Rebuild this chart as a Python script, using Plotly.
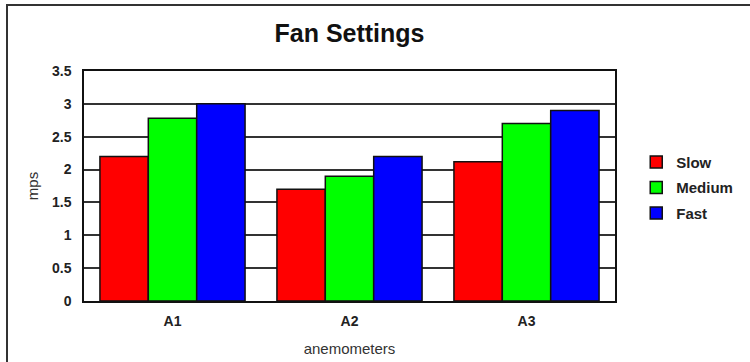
import plotly.graph_objects as go

# Wind speed (mps) at each anemometer for three fan settings
anemometers = ["A1", "A2", "A3"]
slow = [2.2, 1.7, 2.12]
medium = [2.78, 1.9, 2.7]
fast = [3.0, 2.2, 2.9]

series = [
    ("Slow", slow, "#ff0000"),
    ("Medium", medium, "#00ff00"),
    ("Fast", fast, "#0000ff"),
]

y_ticks = [0, 0.5, 1, 1.5, 2, 2.5, 3, 3.5]
y_tick_text = ["0", "0.5", "1", "1.5", "2", "2.5", "3", "3.5"]

FONT = "Liberation Sans, Arial, sans-serif"

fig = go.Figure()
for name, values, color in series:
    fig.add_trace(go.Bar(
        name=name,
        x=anemometers,
        y=values,
        legendgroup=name,
        marker=dict(color=color, line=dict(color="#111111", width=1.5)),
    ))

fig.update_layout(
    width=750,
    height=362,
    margin=dict(l=84, r=135, t=71, b=61),
    paper_bgcolor="white",
    plot_bgcolor="white",
    barmode="group",
    bargap=0.18,
    bargroupgap=0,
    font=dict(family=FONT, color="#222222"),
    title=dict(
        text="<b>Fan Settings</b>",
        font=dict(family=FONT, size=25, color="#111111"),
        x=0.5, xref="paper", xanchor="center",
        y=1 - 33 / 362, yref="container", yanchor="middle",
    ),
    legend=dict(
        x=1.04, xanchor="left",
        y=0.675, yanchor="top",
        font=dict(family=FONT, size=15, color="#222222", weight="bold"),
        tracegroupgap=3,
        bgcolor="rgba(0,0,0,0)",
    ),
    xaxis=dict(
        showgrid=False,
        showline=True, linecolor="#111111", linewidth=1.5, mirror=True,
        ticks="", ticklabelstandoff=6,
        tickfont=dict(family=FONT, size=14, color="#222222", weight="bold"),
        title=dict(text="anemometers", standoff=16,
                   font=dict(family=FONT, size=15, color="#333333")),
        automargin=False,
    ),
    yaxis=dict(
        range=[0, 3.5],
        tickvals=y_ticks, ticktext=y_tick_text,
        showgrid=True, gridcolor="#333333", gridwidth=1.5,
        zeroline=False,
        showline=True, linecolor="#111111", linewidth=1.5, mirror=True,
        ticks="", ticklabelstandoff=8,
        tickfont=dict(family=FONT, size=14, color="#222222", weight="bold"),
        title=dict(text="mps", standoff=10,
                   font=dict(family=FONT, size=15, color="#333333")),
        automargin=False,
    ),
    shapes=[
        # outer frame around the whole chart
        dict(type="rect", xref="paper", yref="paper",
             x0=(7 - 84) / 531, x1=1.4, y0=-0.4, y1=(301 - 5) / 230,
             line=dict(color="#333333", width=2), layer="below"),
    ],
)

fig.write_html("out.html")
